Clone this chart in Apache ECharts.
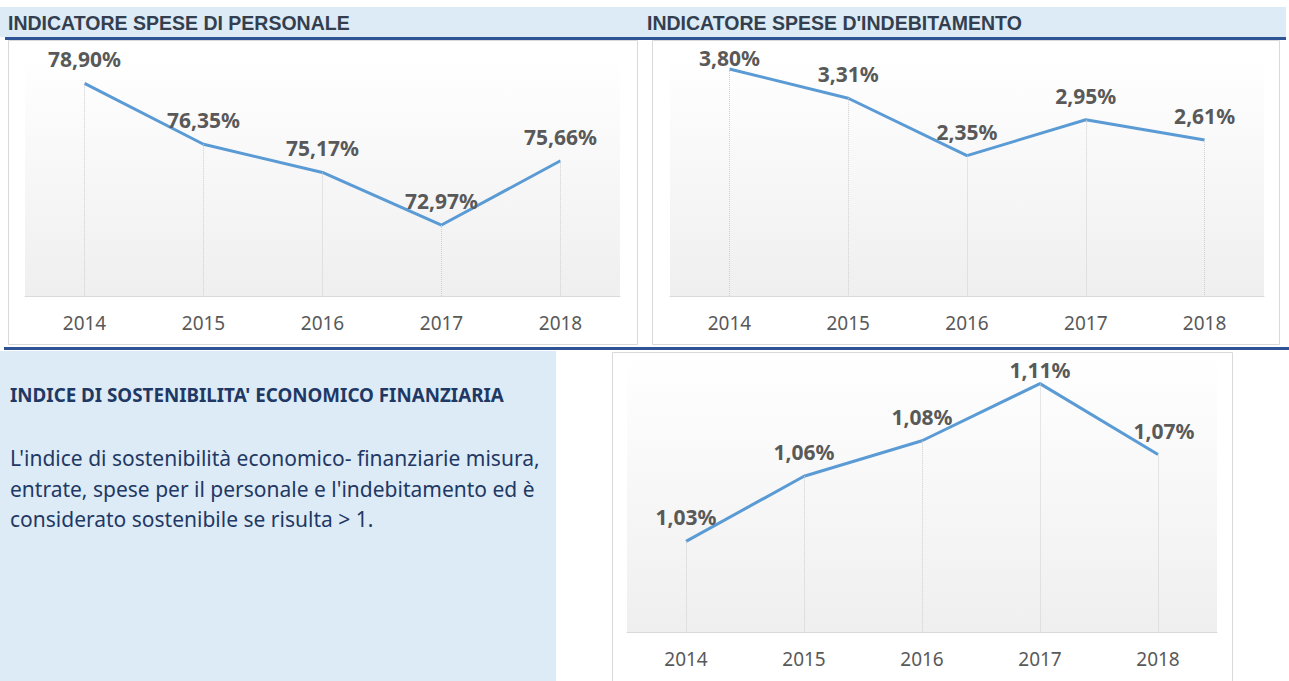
<!DOCTYPE html>
<html>
<head>
<meta charset="utf-8">
<script src="https://cdn.jsdelivr.net/npm/echarts@6/dist/echarts.min.js"></script>
<style>
  html, body { margin: 0; padding: 0; background: #fff; }
  #main { width: 1289px; height: 681px; }
</style>
</head>
<body>
<div id="main"></div>
<script>
// dati
const anni = ['2014', '2015', '2016', '2017', '2018']
const spesePersonale = [78.90, 76.35, 75.17, 72.97, 75.66]
const speseIndebitamento = [3.80, 3.31, 2.35, 2.95, 2.61]
const sostenibilita = [1.026, 1.059, 1.077, 1.106, 1.070]

const titoli = ['INDICATORE SPESE DI PERSONALE', "INDICATORE SPESE D'INDEBITAMENTO"]
const titoloIndice = "INDICE DI SOSTENIBILITA' ECONOMICO FINANZIARIA"
const testoIndice = [
  "L'indice di sostenibilità economico- finanziarie misura,",
  "entrate, spese per il personale e l'indebitamento ed è",
  'considerato sostenibile se risulta > 1.'
]

const numFont = '"Noto Sans", sans-serif'
const grey = '#595959'

const fmt = (v) => v.toFixed(2).replace('.', ',') + '%'

const plotBg = new echarts.graphic.LinearGradient(0, 0, 0, 1, [
  { offset: 0, color: '#ffffff' },
  { offset: 1, color: '#efefef' }
])

// serie con linee di richiamo verso l'asse
const makeSeries = (idx, values, yMin, labelFix) => {
  return {
    type: 'line',
    xAxisIndex: idx,
    yAxisIndex: idx,
    symbol: 'circle',
    symbolSize: 1,
    silent: true,
    itemStyle: { color: 'rgba(0,0,0,0)' },
    lineStyle: { color: '#5b9bd5', width: 3 },
    data: values.map((v, i) => {
      const item = { value: v }
      if (labelFix && labelFix[i]) item.label = labelFix[i]
      return item
    }),
    label: {
      show: true,
      position: 'top',
      distance: 13,
      color: grey,
      fontFamily: numFont,
      fontWeight: 'bold',
      fontSize: 21,
      formatter: (p) => fmt(p.value)
    },
    markLine: {
      silent: true,
      symbol: 'none',
      label: { show: false },
      lineStyle: { color: '#cfcfcf', type: 'dotted', width: 1 },
      data: values.map((v, i) => [
        { coord: [i, v] },
        { coord: [i, yMin] }
      ])
    }
  }
}

const makeX = (idx) => ({
  type: 'category',
  gridIndex: idx,
  data: anni,
  axisTick: { show: false },
  axisLine: { lineStyle: { color: '#d9d9d9', width: 1 } },
  axisLabel: { color: grey, fontFamily: numFont, fontSize: 19, margin: 17 }
})

const makeY = (idx, min, max) => ({
  type: 'value',
  gridIndex: idx,
  min: min,
  max: max,
  show: false,
  splitLine: { show: false }
})

const blu = '#2f5496'
const azzurro = '#ddebf7'
const titleFont = 'bold 19.5px "Liberation Sans", Arial, sans-serif'

var myChart = echarts.init(document.getElementById('main'), null, { renderer: 'svg' })

var option = {
  animation: false,
  grid: [
    { left: 25, top: 57, width: 595, height: 239, show: true, borderWidth: 0, backgroundColor: plotBg },
    { left: 670, top: 57, width: 594, height: 239, show: true, borderWidth: 0, backgroundColor: plotBg },
    { left: 627, top: 356, width: 590, height: 276, show: true, borderWidth: 0, backgroundColor: plotBg }
  ],
  xAxis: [makeX(0), makeX(1), makeX(2)],
  yAxis: [makeY(0, 70, 80), makeY(1, 0, 4), makeY(2, 0.98, 1.12)],
  graphic: [
    // fascia titoli
    { type: 'rect', z: -10, shape: { x: 0, y: 7, width: 1286, height: 30 }, style: { fill: azzurro } },
    { type: 'rect', z: -5, shape: { x: 5, y: 37, width: 1281, height: 3 }, style: { fill: blu } },
    { type: 'text', x: 8, y: 23, style: { text: titoli[0], fill: '#333f4f', font: titleFont, textVerticalAlign: 'middle' } },
    { type: 'text', x: 647, y: 23, style: { text: titoli[1], fill: '#333f4f', font: titleFont, textVerticalAlign: 'middle' } },
    // riquadri grafici
    { type: 'rect', z: -8, shape: { x: 8.5, y: 40.5, width: 629, height: 304 }, style: { fill: '#fff', stroke: '#d9d9d9', lineWidth: 1 } },
    { type: 'rect', z: -8, shape: { x: 652.5, y: 40.5, width: 627, height: 304 }, style: { fill: '#fff', stroke: '#d9d9d9', lineWidth: 1 } },
    { type: 'rect', z: -8, shape: { x: 612.5, y: 352.5, width: 620, height: 340 }, style: { fill: '#fff', stroke: '#d9d9d9', lineWidth: 1 } },
    // linea separatrice
    { type: 'rect', z: -5, shape: { x: 4, y: 347, width: 1285, height: 3 }, style: { fill: blu } },
    // pannello testo
    { type: 'rect', z: -10, shape: { x: 0, y: 351, width: 556, height: 330 }, style: { fill: azzurro } },
    { type: 'text', left: 10, top: 385, style: { text: titoloIndice, fill: '#1f3864', font: 'bold 18.8px "Noto Sans", sans-serif' } },
    { type: 'text', left: 10, top: 443, style: { text: testoIndice.join('\n'), fill: '#1f3864', font: '21px "Noto Sans", sans-serif', lineHeight: 30.5 } }
  ],
  series: [
    makeSeries(0, spesePersonale, 70),
    makeSeries(1, speseIndebitamento, 0, { 0: { distance: 0 } }),
    makeSeries(2, sostenibilita, 0.98, { 3: { distance: 3 }, 4: { offset: [6, 0] } })
  ]
}

myChart.setOption(option)
window.addEventListener('resize', () => {
  myChart.resize()
})
</script>
</body>
</html>
